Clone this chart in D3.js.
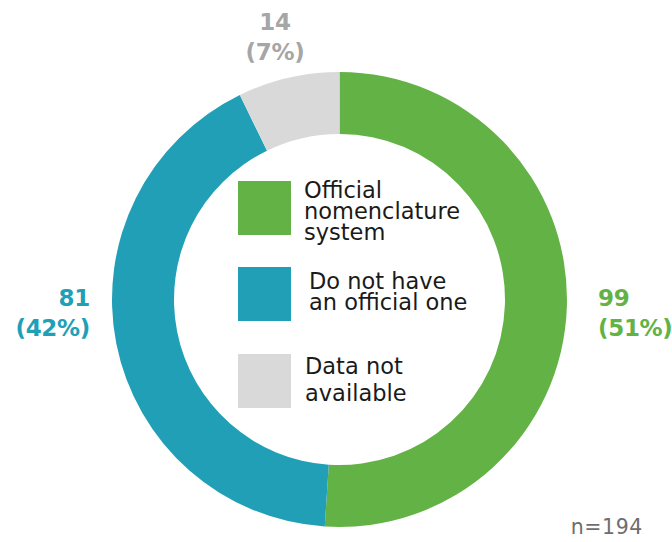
<!DOCTYPE html>
<html>
<head>
<meta charset="utf-8">
<script src="https://cdn.jsdelivr.net/npm/d3@7"></script>
<style>
  html, body { margin: 0; padding: 0; background: #ffffff; }
  svg { display: block; }
</style>
</head>
<body>
<svg id="chart" width="672" height="542"></svg>
<script>
// Survey responses (n = 194)
const categories = ["Official nomenclature system", "Do not have an official one", "Data not available"];
const counts = [99, 81, 14];
const percentLabels = ["(51%)", "(42%)", "(7%)"];
const legendLines = [["Official", "nomenclature", "system"], ["Do not have", "an official one"], ["Data not", "available"]];
const sampleNote = "n=194";

// Styling
const colors = ["#63b245", "#219fb6", "#d9d9d9"];
const labelColors = ["#63b245", "#219fb6", "#a6a6a6"];

const W = 672, H = 542;
const cx = 339.5, cy = 299.5;
const outerR = 227.5, innerR = 165.5;

const svg = d3.select("#chart");
const g = svg.append("g").attr("transform", `translate(${cx},${cy})`);

const pie = d3.pie().sort(null).value(d => d).startAngle(0).endAngle(2 * Math.PI);
const arc = d3.arc().innerRadius(innerR).outerRadius(outerR);
const arcs = pie(counts);

g.selectAll("path.slice")
  .data(arcs)
  .join("path")
  .attr("class", "slice")
  .attr("d", arc)
  .attr("fill", (d, i) => colors[i]);

// Value labels around the ring: anchor depends on which side of the ring the slice sits
const labelLayout = [
  { x: 598, y: 306, anchor: "start" },
  { x: 90,  y: 306, anchor: "end" },
  { x: 275, y: 30,  anchor: "middle" }
];

const valueLabels = svg.append("g")
  .attr("font-family", "'DejaVu Sans', sans-serif")
  .attr("font-weight", "bold")
  .attr("font-size", "23px")
  .attr("letter-spacing", "-0.3px");

arcs.forEach((a, i) => {
  const L = labelLayout[i];
  const t = valueLabels.append("text")
    .attr("x", L.x)
    .attr("y", L.y)
    .attr("text-anchor", L.anchor)
    .attr("fill", labelColors[i]);
  t.append("tspan").attr("x", L.x).text(String(a.data));
  t.append("tspan").attr("x", L.x).attr("dy", 30).text(percentLabels[i]);
});

// Legend in the donut hole
const legendTop = [181, 267, 354];
const legendTextX = [304, 309, 305];
const legendFirstBaseline = [198, 289, 374];
const legendLineGap = [21, 21, 26.7];

const legend = svg.append("g");
categories.forEach((c, i) => {
  legend.append("rect")
    .attr("x", 238)
    .attr("y", legendTop[i])
    .attr("width", 53)
    .attr("height", 54)
    .attr("fill", colors[i]);
  const t = legend.append("text")
    .attr("font-family", "'DejaVu Sans', sans-serif")
    .attr("font-size", "22.5px")
    .attr("fill", "#1a1a1a")
    .attr("y", legendFirstBaseline[i]);
  legendLines[i].forEach((line, j) => {
    t.append("tspan")
      .attr("x", legendTextX[i])
      .attr("dy", j === 0 ? 0 : legendLineGap[i])
      .text(line);
  });
});

svg.append("text")
  .attr("x", 643)
  .attr("y", 534)
  .attr("text-anchor", "end")
  .attr("font-family", "'DejaVu Sans', sans-serif")
  .attr("font-size", "20.5px")
  .attr("letter-spacing", "0.6px")
  .attr("fill", "#6e6e6e")
  .text(sampleNote);
</script>
</body>
</html>
